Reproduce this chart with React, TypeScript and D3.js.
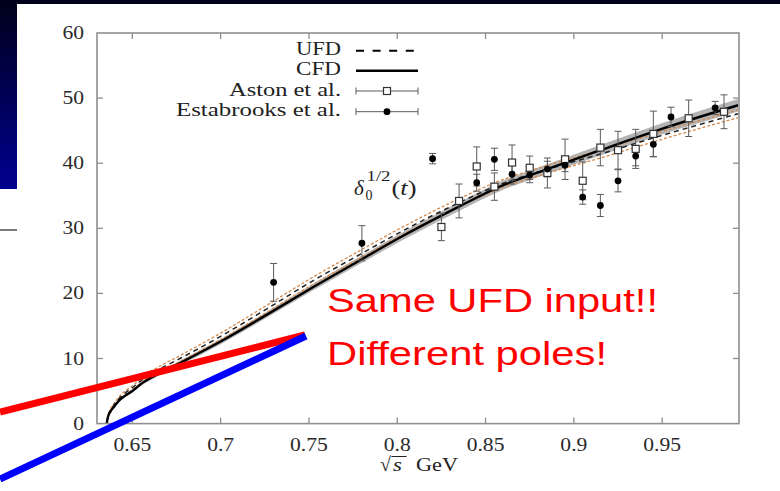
import React, { useEffect } from "react";
import * as d3 from "d3";

// ---------- data ----------
const X_TICKS = [0.65, 0.7, 0.75, 0.8, 0.85, 0.9, 0.95];
const X_TICK_LABELS = ["0.65", "0.7", "0.75", "0.8", "0.85", "0.9", "0.95"];
const Y_TICKS = [0, 10, 20, 30, 40, 50, 60];
const Y_TICK_LABELS = ["0", "10", "20", "30", "40", "50", "60"];

const CURVE_S = [0.6355, 0.6362, 0.6375, 0.64, 0.642, 0.646, 0.65, 0.655, 0.663, 0.677, 0.7, 0.726, 0.752, 0.779, 0.801, 0.8355, 0.858, 0.883, 0.915, 0.949, 0.993];
const CFD_VAL = [0, 1.0, 1.8, 2.7, 3.4, 4.3, 5.0, 6.1, 7.4, 9.3, 12.6, 16.7, 20.9, 25.1, 28.5, 33.4, 36.4, 38.9, 42.0, 45.2, 48.9];
const CFD_ERR = [0, 0.1, 0.15, 0.2, 0.2, 0.25, 0.25, 0.3, 0.3, 0.35, 0.4, 0.45, 0.5, 0.55, 0.6, 0.65, 0.7, 0.75, 0.8, 0.85, 0.95];
const UFD_VAL = [0, 1.1, 2.0, 3.0, 3.7, 4.7, 5.5, 6.6, 8.0, 10.0, 13.4, 17.6, 21.9, 26.0, 29.3, 34.0, 36.7, 38.9, 41.4, 44.2, 47.6];
const UFD_ERR = [0, 0.1, 0.15, 0.2, 0.25, 0.3, 0.3, 0.35, 0.4, 0.45, 0.5, 0.55, 0.55, 0.6, 0.6, 0.6, 0.6, 0.6, 0.6, 0.6, 0.6];

const ASTON_S = [0.825, 0.835, 0.845, 0.855, 0.865, 0.875, 0.885, 0.895, 0.905, 0.915, 0.925, 0.935, 0.945, 0.965, 0.985];
const ASTON_VAL = [30.2, 34.2, 39.5, 36.4, 40.1, 39.3, 38.5, 40.6, 37.3, 42.4, 42.0, 42.2, 44.5, 46.9, 47.9];
const ASTON_ERR = [2.1, 2.6, 3.0, 2.1, 2.7, 1.8, 2.3, 3.1, 2.9, 2.8, 2.9, 3.0, 3.5, 2.8, 2.6];

const EST_S = [0.73, 0.78, 0.82, 0.845, 0.855, 0.865, 0.875, 0.885, 0.895, 0.905, 0.915, 0.925, 0.935, 0.945, 0.955, 0.98];
const EST_VAL = [21.7, 27.7, 40.7, 37.0, 40.6, 38.3, 38.2, 39.1, 39.7, 34.8, 33.5, 37.3, 41.1, 42.9, 47.1, 48.5];
const EST_ERR = [2.9, 2.7, 0.8, 1.3, 1.7, 1.5, 1.2, 1.2, 1.0, 1.1, 1.7, 1.7, 1.5, 1.9, 1.5, 1.0];

const LEGEND_LABELS = ["UFD", "CFD", "Aston et al.", "Estabrooks et al."];
const NOTE_LINES = ["Same UFD input!!", "Different poles!"];

// ---------- layout ----------
const W = 780;
const H = 491;
const PL = 97, PR = 739, PT = 33, PB = 423.6;

const x = d3.scaleLinear().domain([0.63, 0.9935]).range([PL, PR]);
const y = d3.scaleLinear().domain([0, 60]).range([PB, PT]);

const SERIF = "'Liberation Serif', 'Times New Roman', serif";
const SANS = "'Liberation Sans', Arial, sans-serif";

export default function App() {
  useEffect(() => {
    document.body.style.margin = "0";
    document.body.style.background = "#ffffff";
    document.documentElement.style.background = "#ffffff";
  }, []);

  const idx = CURVE_S.map((_, i) => i);
  const line = (vals: number[]) =>
    d3.line<number>().x((i) => x(CURVE_S[i])).y((i) => y(vals[i])).curve(d3.curveMonotoneX)(idx) || "";
  const cfdBand =
    d3
      .area<number>()
      .x((i) => x(CURVE_S[i]))
      .y0((i) => y(Math.max(0, CFD_VAL[i] - CFD_ERR[i])))
      .y1((i) => y(CFD_VAL[i] + CFD_ERR[i]))
      .curve(d3.curveMonotoneX)(idx) || "";
  const ufdUp = line(UFD_VAL.map((v, i) => v + UFD_ERR[i]));
  const ufdLo = line(UFD_VAL.map((v, i) => Math.max(0, v - UFD_ERR[i])));

  const tickLen = 6;
  const axisColor = "#8f8f8f";
  const errColor = "#5a5a5a";
  const cap = 3.5;

  const legendRight = 341;
  const legendWidths = [45, 45, 112, 165];
  const legendBase = [54.5, 75, 95.5, 116];
  const legendLineY = [50.7, 70.7, 91, 111.7];
  const lx0 = 356, lx1 = 418, lmid = 387;

  return (
    <svg
      width={W}
      height={H}
      style={{ position: "fixed", left: 0, top: 0, display: "block" }}
      xmlns="http://www.w3.org/2000/svg"
    >
      <defs>
        <linearGradient id="slideGrad" x1="0" y1="0" x2="0" y2="1">
          <stop offset="0" stopColor="#00001a" />
          <stop offset="1" stopColor="#000090" />
        </linearGradient>
      </defs>
      <rect x={0} y={0} width={W} height={H} fill="#ffffff" />
      {/* slide decoration */}
      <rect x={0} y={0} width={W} height={4} fill="#00001c" />
      <rect x={0} y={0} width={17} height={189} fill="url(#slideGrad)" />
      <line x1={0} x2={17} y1={230} y2={230} stroke="#7a7a7a" strokeWidth={2} />

      {/* CFD band + UFD band */}
      <path d={cfdBand} fill="#b4b4b4" stroke="none" />
      <path d={ufdUp} fill="none" stroke="#d58a4e" strokeWidth={1.3} strokeDasharray="3,2" />
      <path d={ufdLo} fill="none" stroke="#d58a4e" strokeWidth={1.3} strokeDasharray="3,2" />
      <path d={line(UFD_VAL)} fill="none" stroke="#222" strokeWidth={1.5} strokeDasharray="5,4" />
      <path d={line(CFD_VAL)} fill="none" stroke="#000" strokeWidth={2.4} />

      {/* frame */}
      <rect x={PL} y={PT} width={PR - PL} height={PB - PT} fill="none" stroke={axisColor} strokeWidth={1.6} />
      {X_TICKS.map((t, i) => (
        <g key={"xt" + i}>
          <line x1={x(t)} x2={x(t)} y1={PB} y2={PB - tickLen} stroke={axisColor} strokeWidth={1.3} />
          <line x1={x(t)} x2={x(t)} y1={PT} y2={PT + tickLen} stroke={axisColor} strokeWidth={1.3} />
          <text
            transform={`translate(${x(t)},${451}) scale(1.2,1)`}
            textAnchor="middle"
            fontFamily={SERIF}
            fontSize={18}
            fill="#2a2a2a"
          >
            {X_TICK_LABELS[i]}
          </text>
        </g>
      ))}
      {Y_TICKS.map((t, i) => (
        <g key={"yt" + i}>
          {i > 0 && i < Y_TICKS.length - 1 && (
            <>
              <line x1={PL} x2={PL + tickLen} y1={y(t)} y2={y(t)} stroke={axisColor} strokeWidth={1.3} />
              <line x1={PR} x2={PR - tickLen} y1={y(t)} y2={y(t)} stroke={axisColor} strokeWidth={1.3} />
            </>
          )}
          <text
            transform={`translate(${84},${y(t) + 6}) scale(1.2,1)`}
            textAnchor="end"
            fontFamily={SERIF}
            fontSize={18}
            fill="#2a2a2a"
          >
            {Y_TICK_LABELS[i]}
          </text>
        </g>
      ))}

      {/* x axis label */}
      <g fontFamily={SERIF} fill="#222">
        <text x={380} y={471} fontSize={20}>√</text>
        <line x1={391.5} x2={406.5} y1={456.5} y2={456.5} stroke="#222" strokeWidth={1} />
        <text transform={`translate(${393},${471}) scale(1.2,1)`} fontSize={19} fontStyle="italic">s</text>
        <text x={416} y={471} fontSize={19} textLength={42} lengthAdjust="spacingAndGlyphs">GeV</text>
      </g>

      {/* curve label */}
      <g fontFamily={SERIF} fill="#222">
        <text x={354} y={195} fontSize={21} fontStyle="italic">δ</text>
        <text x={365.5} y={200} fontSize={14}>0</text>
        <text x={366.5} y={181} fontSize={15} textLength={24} lengthAdjust="spacingAndGlyphs">1/2</text>
        <text x={391.5} y={195} fontSize={20} textLength={25} lengthAdjust="spacingAndGlyphs">
          (<tspan fontStyle="italic">t</tspan>)
        </text>
      </g>

      {/* error bars */}
      {ASTON_S.map((s, i) => {
        const cx = x(s);
        const v1 = y(ASTON_VAL[i] + ASTON_ERR[i]);
        const v0 = y(ASTON_VAL[i] - ASTON_ERR[i]);
        return (
          <g key={"a" + i}>
            <line x1={cx} x2={cx} y1={v1} y2={v0} stroke={errColor} strokeWidth={1} />
            <line x1={cx - cap} x2={cx + cap} y1={v1} y2={v1} stroke={errColor} strokeWidth={1} />
            <line x1={cx - cap} x2={cx + cap} y1={v0} y2={v0} stroke={errColor} strokeWidth={1} />
          </g>
        );
      })}
      {EST_S.map((s, i) => {
        const cx = x(s);
        const v1 = y(EST_VAL[i] + EST_ERR[i]);
        const v0 = y(EST_VAL[i] - EST_ERR[i]);
        return (
          <g key={"e" + i}>
            <line x1={cx} x2={cx} y1={v1} y2={v0} stroke={errColor} strokeWidth={1} />
            <line x1={cx - cap} x2={cx + cap} y1={v1} y2={v1} stroke={errColor} strokeWidth={1} />
            <line x1={cx - cap} x2={cx + cap} y1={v0} y2={v0} stroke={errColor} strokeWidth={1} />
          </g>
        );
      })}
      {ASTON_S.map((s, i) => (
        <rect
          key={"as" + i}
          x={x(s) - 3.5}
          y={y(ASTON_VAL[i]) - 3.5}
          width={7}
          height={7}
          fill="#fff"
          stroke="#333"
          strokeWidth={1.2}
        />
      ))}
      {EST_S.map((s, i) => (
        <circle key={"ec" + i} cx={x(s)} cy={y(EST_VAL[i])} r={3.4} fill="#000" />
      ))}

      {/* legend */}
      {LEGEND_LABELS.map((lab, i) => (
        <text
          key={"lg" + i}
          x={legendRight - legendWidths[i]}
          y={legendBase[i]}
          fontFamily={SERIF}
          fontSize={19}
          fill="#222"
          textLength={legendWidths[i]}
          lengthAdjust="spacingAndGlyphs"
        >
          {lab}
        </text>
      ))}
      <line x1={lx0} x2={lx1} y1={legendLineY[0]} y2={legendLineY[0]} stroke="#000" strokeWidth={2} strokeDasharray="8,8.6" />
      <line x1={lx0} x2={lx1} y1={legendLineY[1]} y2={legendLineY[1]} stroke="#000" strokeWidth={2.6} />
      {[2, 3].map((r) => (
        <g key={"lgm" + r}>
          <line x1={lx0} x2={lx1} y1={legendLineY[r]} y2={legendLineY[r]} stroke={errColor} strokeWidth={1} />
          <line x1={lx0} x2={lx0} y1={legendLineY[r] - 3.5} y2={legendLineY[r] + 3.5} stroke={errColor} strokeWidth={1} />
          <line x1={lx1} x2={lx1} y1={legendLineY[r] - 3.5} y2={legendLineY[r] + 3.5} stroke={errColor} strokeWidth={1} />
          {r === 2 ? (
            <rect x={lmid - 3.5} y={legendLineY[r] - 3.5} width={7} height={7} fill="#fff" stroke="#333" strokeWidth={1.2} />
          ) : (
            <circle cx={lmid} cy={legendLineY[r]} r={3.4} fill="#000" />
          )}
        </g>
      ))}

      {/* annotation */}
      <line x1={0} y1={412} x2={305} y2={335} stroke="#ff0000" strokeWidth={7} />
      <line x1={0} y1={479} x2={306} y2={336} stroke="#0000ff" strokeWidth={7} />
      <text x={327} y={312} fontFamily={SANS} fontSize={34} fill="#ff0000" textLength={331} lengthAdjust="spacingAndGlyphs">
        {NOTE_LINES[0]}
      </text>
      <text x={327} y={365} fontFamily={SANS} fontSize={34} fill="#ff0000" textLength={280} lengthAdjust="spacingAndGlyphs">
        {NOTE_LINES[1]}
      </text>
    </svg>
  );
}
